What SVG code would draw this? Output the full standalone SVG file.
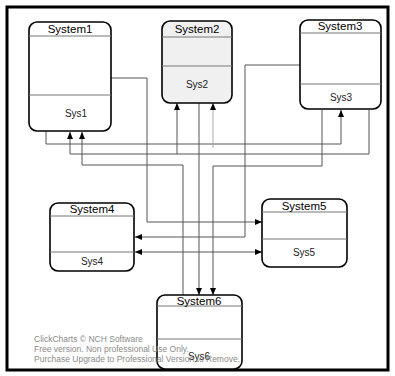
<svg xmlns="http://www.w3.org/2000/svg" width="395" height="376" viewBox="0 0 395 376">
<style>
.box{fill:#fff;stroke:#000;stroke-width:1.6}
.div{stroke:#777;stroke-width:1;fill:none}
.title{font-family:"Liberation Sans",Arial,sans-serif;font-size:11.5px;fill:#000;text-anchor:middle}
.lbl{font-family:"Liberation Sans",Arial,sans-serif;font-size:10px;fill:#222;text-anchor:middle}
.con{fill:none;stroke:#555;stroke-width:1}
.wm{font-family:"Liberation Sans",Arial,sans-serif;font-size:8.5px;fill:#8a8a8a}
</style>
<defs>
<marker id="arr" markerUnits="userSpaceOnUse" markerWidth="7" markerHeight="6" refX="7" refY="3" orient="auto-start-reverse" viewBox="0 0 7 6">
<path d="M0,0 L7,3 L0,6 z" fill="#000"/>
</marker>
</defs>
<rect x="0" y="0" width="395" height="376" fill="#fff"/>
<rect x="7" y="7" width="381" height="363" fill="#fff" stroke="#000" stroke-width="3"/>

<g id="connectors">
<path class="con" d="M111,78 H147 V222 H262" marker-end="url(#arr)"/>
<path class="con" d="M300,65 H245 V237 H135" marker-end="url(#arr)"/>
<path class="con" d="M46,131 V144 H341 V110" marker-end="url(#arr)"/>
<path class="con" d="M369,110 V154 H70 V132" marker-end="url(#arr)"/>
<path class="con" d="M177,154 V103" marker-end="url(#arr)"/>
<path class="con" d="M183,295 V165 H82 V132" marker-end="url(#arr)"/>
<path class="con" d="M322,110 V166 H213 V295" marker-end="url(#arr)"/>
<path class="con" d="M199,103 V295" marker-end="url(#arr)"/>
<path class="con" d="M135,252 H262" marker-start="url(#arr)" marker-end="url(#arr)"/>
<path class="con" style="stroke:#aaa" d="M213,148 V103" marker-end="url(#arr)"/>
</g>

<g id="System1">
<rect class="box" x="29" y="22" width="82" height="109" rx="8"/>
<line class="div" x1="29" y1="36" x2="111" y2="36"/>
<line class="div" x1="29" y1="95" x2="111" y2="95"/>
<text class="title" x="70" y="33">System1</text>
<text class="lbl" x="76" y="117">Sys1</text>
</g>

<g id="System2">
<rect class="box" x="162" y="21" width="70" height="82" rx="8" style="fill:#f0f0f0"/>
<line class="div" x1="162" y1="37" x2="232" y2="37"/>
<line class="div" x1="162" y1="66" x2="232" y2="66"/>
<text class="title" x="197" y="33">System2</text>
<text class="lbl" x="197" y="88">Sys2</text>
</g>

<g id="System3">
<rect class="box" x="300" y="20" width="81" height="89" rx="8"/>
<line class="div" x1="300" y1="33" x2="381" y2="33"/>
<line class="div" x1="300" y1="84" x2="381" y2="84"/>
<text class="title" x="340" y="30">System3</text>
<text class="lbl" x="341" y="101">Sys3</text>
</g>

<g id="System4">
<rect class="box" x="50" y="203" width="84" height="68" rx="8"/>
<line class="div" x1="50" y1="216" x2="134" y2="216"/>
<line class="div" x1="50" y1="252" x2="134" y2="252"/>
<text class="title" x="92" y="213">System4</text>
<text class="lbl" x="92" y="265">Sys4</text>
</g>

<g id="System5">
<rect class="box" x="262" y="199" width="85" height="68" rx="8"/>
<line class="div" x1="262" y1="212" x2="347" y2="212"/>
<line class="div" x1="262" y1="239" x2="347" y2="239"/>
<text class="title" x="304" y="210">System5</text>
<text class="lbl" x="304" y="256">Sys5</text>
</g>

<g id="System6">
<rect class="box" x="157" y="295" width="85" height="74" rx="8"/>
<line class="div" x1="157" y1="306" x2="242" y2="306"/>
<line class="div" x1="157" y1="339" x2="242" y2="339"/>
<text class="title" x="199" y="305">System6</text>
<text class="lbl" x="199" y="360">Sys6</text>
</g>

<g id="watermark">
<text class="wm" x="34" y="342">ClickCharts © NCH Software</text>
<text class="wm" x="34" y="352">Free version. Non professional Use Only.</text>
<text class="wm" x="34" y="362">Purchase Upgrade to Professional Version to Remove.</text>
</g>
</svg>
